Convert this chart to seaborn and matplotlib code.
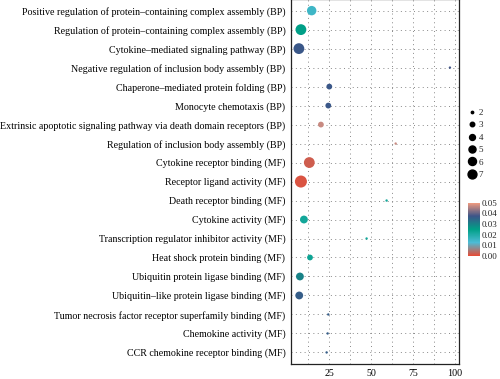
import numpy as np
import pandas as pd
import matplotlib
matplotlib.use("Agg")
import matplotlib.pyplot as plt
from matplotlib.colors import LinearSegmentedColormap, Normalize
from matplotlib.lines import Line2D
import seaborn as sns

# GO terms, top to bottom
terms = [
    "Positive regulation of protein\u2013containing complex assembly (BP)",
    "Regulation of protein\u2013containing complex assembly (BP)",
    "Cytokine\u2013mediated signaling pathway (BP)",
    "Negative regulation of inclusion body assembly (BP)",
    "Chaperone\u2013mediated protein folding (BP)",
    "Monocyte chemotaxis (BP)",
    "Extrinsic apoptotic signaling pathway via death domain receptors (BP)",
    "Regulation of inclusion body assembly (BP)",
    "Cytokine receptor binding (MF)",
    "Receptor ligand activity (MF)",
    "Death receptor binding (MF)",
    "Cytokine activity (MF)",
    "Transcription regulator inhibitor activity (MF)",
    "Heat shock protein binding (MF)",
    "Ubiquitin protein ligase binding (MF)",
    "Ubiquitin\u2013like protein ligase binding (MF)",
    "Tumor necrosis factor receptor superfamily binding (MF)",
    "Chemokine activity (MF)",
    "CCR chemokine receptor binding (MF)",
]
fold = [14.7, 8.3, 7.1, 97.0, 25.2, 24.6, 20.2, 64.7, 13.3, 8.3,
        59.3, 10.1, 47.4, 13.7, 7.7, 7.3, 24.6, 24.2, 23.6]
count = [5, 6, 6, 2, 3, 3, 3, 2, 6, 7, 2, 4, 2, 3, 4, 4, 2, 2, 2]
pval = [0.015, 0.025, 0.037, 0.038, 0.037, 0.037, 0.047, 0.047, 0.002, 0.001,
        0.022, 0.022, 0.022, 0.023, 0.030, 0.036, 0.036, 0.036, 0.036]

df = pd.DataFrame({"term": terms, "fold": fold, "count": count, "p": pval})

cmap = LinearSegmentedColormap.from_list(
    "npg", ["#E64B35", "#4DBBD5", "#00A087", "#3C5488", "#F39B7F"])

sns.set_style("white")
plt.rcParams["font.family"] = ["Liberation Serif", "DejaVu Serif"]

fig = plt.figure(figsize=(5, 3.79), dpi=100)
ax = fig.add_axes([0.582, 0.04, 0.336, 0.962])

sns.scatterplot(data=df, x="fold", y="term", hue="p", size="count",
                palette=cmap, hue_norm=(0, 0.05), sizes=(3, 75), size_norm=(2, 7),
                edgecolor="none", legend=False, ax=ax, zorder=3)

ax.set_xlim(2.4, 102.4)
ax.set_ylim(len(terms) - 0.4, -0.6)
ax.set_xticks([25, 50, 75, 100])
ax.set_xticks([12.5, 37.5, 62.5, 87.5], minor=True)
ax.grid(which="both", axis="x", linestyle=(0, (1, 3.5)), color="#888888", linewidth=0.7)
ax.grid(which="major", axis="y", linestyle=(0, (1, 3.5)), color="#888888", linewidth=0.7)
ax.set_xlabel("")
ax.set_ylabel("")
ax.tick_params(axis="both", which="major", labelsize=7.2, length=2.5, width=0.7,
               color="#333333", pad=1.5, labelcolor="black")
ax.tick_params(axis="x", which="minor", length=0)
for s in ax.spines.values():
    s.set_color("#222222")
    s.set_linewidth(0.9)

# size legend
handles = [Line2D([], [], marker="o", linestyle="", color="black",
                  markersize=np.sqrt(3 + (c - 2) / 5 * 38))
           for c in [2, 3, 4, 5, 6, 7]]
fig.legend(handles, ["2", "3", "4", "5", "6", "7"], loc="upper left",
           bbox_to_anchor=(0.925, 0.725), frameon=False, fontsize=6.5,
           handlelength=1.0, handletextpad=0.3, labelspacing=0.45, borderpad=0)

# colour bar
cax = fig.add_axes([0.935, 0.325, 0.024, 0.14])
sm = plt.cm.ScalarMappable(norm=Normalize(0, 0.05), cmap=cmap)
cb = fig.colorbar(sm, cax=cax, ticks=[0, 0.01, 0.02, 0.03, 0.04, 0.05])
cb.ax.set_yticklabels(["0.00", "0.01", "0.02", "0.03", "0.04", "0.05"])
cb.outline.set_visible(False)
cb.ax.tick_params(labelsize=6.5, length=2, color="white", width=0.6, direction="in", pad=1.5)

fig.savefig("out.png", dpi=100)
